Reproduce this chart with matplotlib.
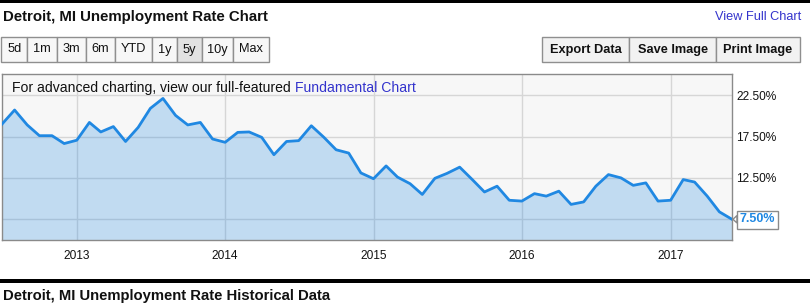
import matplotlib
matplotlib.use("Agg")
import matplotlib.pyplot as plt
from matplotlib.patches import Rectangle, Polygon
import pandas as pd

plt.rcParams['font.family'] = ['Liberation Sans', 'DejaVu Sans']

# monthly unemployment rate, Jul 2012 .. Jun 2017
months = pd.date_range('2012-07-01', '2017-06-01', freq='MS')
rate = [19.0, 20.7, 18.9, 17.6, 17.6, 16.65,
        17.05, 19.2, 18.05, 18.7, 16.9, 18.6, 20.9, 22.1, 20.05, 18.9, 19.2, 17.2,
        16.8, 18.0, 18.05, 17.4, 15.3, 16.9, 17.0, 18.8, 17.4, 15.9, 15.5, 13.1,
        12.4, 13.95, 12.6, 11.8, 10.5, 12.45, 13.05, 13.8, 12.3, 10.8, 11.5, 9.8,
        9.7, 10.6, 10.3, 10.9, 9.3, 9.6, 11.5, 12.9, 12.5, 11.6, 11.9, 9.7,
        9.8, 12.3, 12.0, 10.3, 8.4, 7.5]
ytick_vals = [7.5, 12.5, 17.5, 22.5]
year_ticks = ['2013', '2014', '2015', '2016', '2017']
range_buttons = ['5d', '1m', '3m', '6m', 'YTD', '1y', '5y', '10y', 'Max']
range_edges = [1, 27.3, 57.3, 86, 115, 152.3, 176.7, 202.3, 233.3, 269.3]
action_buttons = ['Export Data', 'Save Image', 'Print Image']
action_edges = [541.7, 629.3, 716, 800]

W, H = 810, 306
fig = plt.figure(figsize=(W / 100, H / 100), dpi=100)


def fx(x):
    return x / W


def fy(y):
    return 1 - y / H


LINE = '#2088e2'
FILL = '#2088e2'
BLUE_TXT = '#3333cc'

# plot area
ax = fig.add_axes([fx(2), fy(240), (732 - 2) / W, (240 - 74) / H])
ax.set_facecolor('#f7f7f7')
ax.fill_between(months, rate, 0, color=FILL, alpha=0.25, lw=0, zorder=2)
ax.plot(months, rate, color=LINE, lw=2, zorder=3)
ax.set_xlim(months[0], months[-1])
ax.set_ylim(5, 25.05)
ax.set_yticks(ytick_vals)
ax.set_yticklabels(['' if v == rate[-1] else '%.2f%%' % v for v in ytick_vals])
ax.yaxis.tick_right()
ax.set_xticks([pd.Timestamp(y + '-01-01') for y in year_ticks])
ax.set_xticklabels(year_ticks)
ax.tick_params(length=0, labelsize=8.6, colors='#111111', pad=3)
ax.tick_params(axis='x', pad=7)
ax.grid(True, color='#d6d6d6', lw=1, zorder=1)
ax.set_axisbelow(True)
for s in ax.spines.values():
    s.set_color('#8a8a8a')
    s.set_linewidth(1)

# last value label
last_y = fy(219.3)
box = Rectangle((fx(736.5), fy(228.5)), (777.5 - 736.5) / W, (228.5 - 210.5) / H,
                transform=fig.transFigure, facecolor='white', edgecolor='#8a8a8a',
                lw=1, zorder=5)
fig.patches.append(box)
tri = Polygon([(fx(733), last_y), (fx(737), fy(215.5)), (fx(737), fy(223))],
              closed=True, transform=fig.transFigure, facecolor='white',
              edgecolor='#8a8a8a', lw=1, zorder=4)
fig.patches.append(tri)
fig.text(fx(757), fy(219.5), '%.2f%%' % rate[-1], color=LINE, fontsize=9,
         fontweight='bold', ha='center', va='center', zorder=6)

# overlay note inside the plot
t1 = fig.text(fx(12), fy(88), 'For advanced charting, view our full-featured ',
              fontsize=10.1, color='#111111', va='center', zorder=6)
fig.canvas.draw()
bb = t1.get_window_extent()
fig.text(bb.x1 / W, fy(88), 'Fundamental Chart', fontsize=10.1, color=BLUE_TXT,
         va='center', zorder=6)

# header
fig.patches.append(Rectangle((0, fy(3.3)), 1, 3.3 / H, transform=fig.transFigure,
                             facecolor='black', lw=0))
fig.text(fx(3), fy(16.5), 'Detroit, MI Unemployment Rate Chart', fontsize=10.8,
         fontweight='bold', va='center', color='#111111')
fig.text(fx(801), fy(16.5), 'View Full Chart', fontsize=9.2, color=BLUE_TXT,
         va='center', ha='right')

# range buttons
for i, lab in enumerate(range_buttons):
    x0, x1 = range_edges[i], range_edges[i + 1]
    fc = '#e2e2e2' if lab == '5y' else '#f7f7f7'
    fig.patches.append(Rectangle((fx(x0), fy(62.5)), (x1 - x0) / W, 25.5 / H,
                                 transform=fig.transFigure, facecolor=fc,
                                 edgecolor='#8f8f8f', lw=1))
    fig.text(fx((x0 + x1) / 2), fy(49.5), lab, fontsize=9.2, ha='center',
             va='center', color='#111111')

# action buttons
for i, lab in enumerate(action_buttons):
    x0, x1 = action_edges[i], action_edges[i + 1]
    fig.patches.append(Rectangle((fx(x0), fy(62.5)), (x1 - x0) / W, 25.5 / H,
                                 transform=fig.transFigure, facecolor='#f2f2f2',
                                 edgecolor='#8f8f8f', lw=1))
    fig.text(fx((x0 + x1) / 2), fy(49.5), lab, fontsize=9.2, ha='center',
             va='center', fontweight='bold', color='#111111')

# footer
fig.patches.append(Rectangle((0, fy(283)), 1, 3.6 / H, transform=fig.transFigure,
                             facecolor='black', lw=0))
fig.text(fx(3), fy(296), 'Detroit, MI Unemployment Rate Historical Data',
         fontsize=10.7, fontweight='bold', va='center', color='#111111')

fig.savefig('out.png', dpi=100)
